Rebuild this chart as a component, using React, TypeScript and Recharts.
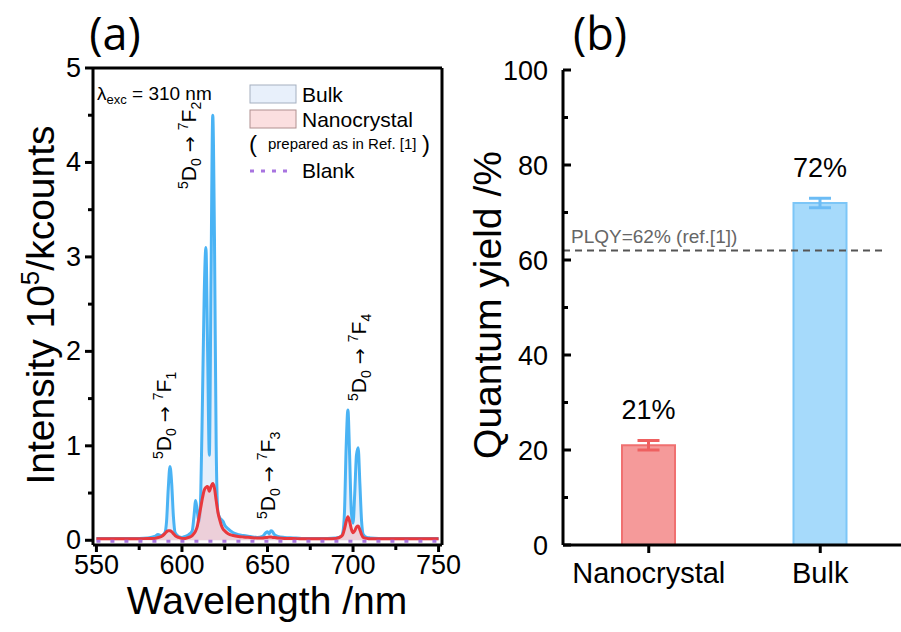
import React from 'react';
import {
  ComposedChart, Area, Line, XAxis, YAxis, ReferenceLine, Customized,
  BarChart, Bar, ErrorBar, LabelList,
} from 'recharts';

const FONT = "'Liberation Sans', Arial, Helvetica, sans-serif";
const TITLE_FONT = "'Open Sans', 'Liberation Sans', sans-serif";
const ARROW_FONT = "'DejaVu Sans', sans-serif";

// ---------- Panel (a) data ----------
const wavelength = [
  550, 555, 560, 565, 570, 575, 580,
  584, 586, 588, 590,
  591, 592, 593, 594, 595, 596,
  598, 600, 602, 604, 606,
  607, 608, 609, 610, 611, 612, 613, 614, 615, 616, 617, 618, 619, 620, 621, 622, 623, 624, 625,
  627, 630, 633, 636, 640, 644, 647, 649,
  650, 651, 652, 653, 654,
  656, 660, 665, 670, 675, 680, 685, 690,
  693, 694, 695, 696, 697, 698, 699, 700, 701, 702, 703, 704, 705, 706,
  708, 710, 715, 720, 725, 730, 735, 740, 745, 750,
];
const bulkIntensity = [
  0.02, 0.02, 0.02, 0.02, 0.02, 0.02, 0.025,
  0.04, 0.06, 0.05, 0.08,
  0.2, 0.55, 0.78, 0.6, 0.25, 0.08,
  0.04, 0.03, 0.04, 0.06, 0.1,
  0.25, 0.42, 0.3, 0.2, 0.5, 1.5, 2.6, 3.1, 2.0, 0.9, 2.8, 4.5, 3.2, 1.0, 0.3, 0.24, 0.22, 0.2, 0.16,
  0.12, 0.08, 0.06, 0.05, 0.04, 0.03, 0.04, 0.08,
  0.09, 0.07, 0.1, 0.09, 0.06,
  0.04, 0.03, 0.025, 0.02, 0.02, 0.02, 0.02, 0.025,
  0.04, 0.08, 0.3, 1.0, 1.38, 0.9, 0.3, 0.18, 0.5, 0.9, 0.98, 0.6, 0.2, 0.06,
  0.03, 0.025, 0.02, 0.02, 0.02, 0.02, 0.02, 0.02, 0.02, 0.02,
];
const nanoIntensity = [
  0.015, 0.015, 0.015, 0.015, 0.015, 0.015, 0.02,
  0.02, 0.03, 0.04, 0.07,
  0.09, 0.1, 0.1, 0.09, 0.07, 0.05,
  0.03, 0.02, 0.02, 0.03, 0.05,
  0.07, 0.1, 0.15, 0.25, 0.35, 0.45, 0.53, 0.56, 0.57, 0.52, 0.57, 0.6, 0.55, 0.42, 0.3, 0.22, 0.16, 0.12, 0.1,
  0.07, 0.05, 0.04, 0.035, 0.03, 0.025, 0.025, 0.03,
  0.03, 0.035, 0.035, 0.03, 0.03,
  0.025, 0.02, 0.02, 0.015, 0.015, 0.015, 0.015, 0.02,
  0.04, 0.06, 0.12, 0.2, 0.25, 0.2, 0.12, 0.08, 0.1, 0.14, 0.15, 0.11, 0.06, 0.03,
  0.02, 0.015, 0.015, 0.015, 0.015, 0.015, 0.015, 0.015, 0.015, 0.015,
];
const blankWavelength = [550, 600, 650, 700, 750];
const blankIntensity = [-0.01, -0.01, -0.01, -0.01, -0.01];

const xTicksA = [550, 575, 600, 625, 650, 675, 700, 725, 750];
const yTicksA = [0, 0.5, 1, 1.5, 2, 2.5, 3, 3.5, 4, 4.5, 5];

// ---------- Panel (b) data ----------
const categories = ['Nanocrystal', 'Bulk'];
const quantumYield = [21, 72];
const yieldError = [1, 1];
const yTicksB = [0, 10, 20, 30, 40, 50, 60, 70, 80, 90, 100];
const referencePLQY = 62;

const specData = wavelength.map((w, i) => ({ wl: w, bulk: bulkIntensity[i], nano: nanoIntensity[i] }));
const blankData = blankWavelength.map((w, i) => ({ wl: w, blank: blankIntensity[i] }));
const barData = categories.map((c, i) => ({
  cat: c,
  nano: c === 'Nanocrystal' ? quantumYield[i] : null,
  nanoErr: c === 'Nanocrystal' ? yieldError[i] : null,
  bulk: c === 'Bulk' ? quantumYield[i] : null,
  bulkErr: c === 'Bulk' ? yieldError[i] : null,
}));

const BLUE = '#4ab3f4';
const RED = '#e8383d';
const PURPLE = '#a874e0';

// ---------- ticks ----------
const XTickA = (props: any) => {
  const { x, y, payload } = props;
  const major = payload.value % 50 === 0;
  return (
    <g>
      <line x1={x} x2={x} y1={y} y2={y + (major ? 7 : 5)} stroke="#000" strokeWidth={3} />
      {major && (
        <text x={x} y={y + 29} textAnchor="middle" fontSize={27} fontFamily={FONT} fill="#000">
          {payload.value}
        </text>
      )}
    </g>
  );
};

const YTickA = (props: any) => {
  const { x, y, payload } = props;
  const major = Number.isInteger(payload.value);
  return (
    <g>
      <line x1={x} x2={x - (major ? 8 : 5)} y1={y} y2={y} stroke="#000" strokeWidth={3} />
      {major && (
        <text x={x - 12} y={y + 9} textAnchor="end" fontSize={27} fontFamily={FONT} fill="#000">
          {payload.value}
        </text>
      )}
    </g>
  );
};

const XTickB = (props: any) => {
  const { x, y, payload } = props;
  return (
    <g>
      <line x1={x} x2={x} y1={y} y2={y + 8} stroke="#000" strokeWidth={3} />
      <text x={x} y={y + 38} textAnchor="middle" fontSize={29} fontFamily={FONT} fill="#000">
        {payload.value}
      </text>
    </g>
  );
};

const YTickB = (props: any) => {
  const { x, y, payload } = props;
  const major = payload.value % 20 === 0;
  return (
    <g>
      <line x1={x} x2={x + (major ? 8 : 5)} y1={y} y2={y} stroke="#000" strokeWidth={3} />
      {major && (
        <text x={x - 15} y={y + 10} textAnchor="end" fontSize={27} fontFamily={FONT} fill="#000">
          {payload.value}
        </text>
      )}
    </g>
  );
};

// ---------- annotations ----------
const Transition = ({ x, y, n }: { x: number; y: number; n: string }) => (
  <text transform={`rotate(-90 ${x} ${y})`} x={x} y={y} fontSize={21} fontFamily={FONT} fill="#000">
    <tspan fontSize={14} dy={-8}>5</tspan>
    <tspan dy={8}>D</tspan>
    <tspan fontSize={14} dy={5}>0</tspan>
    <tspan dy={-5} fontFamily={ARROW_FONT} fontSize={19}>{' \u2192 '}</tspan>
    <tspan fontSize={14} dy={-8}>7</tspan>
    <tspan dy={8}>F</tspan>
    <tspan fontSize={14} dy={5}>{n}</tspan>
  </text>
);

const OverlayA = () => (
  <g>
    <text x={115} y={50} textAnchor="middle" fontSize={45} fontFamily={TITLE_FONT} fill="#000">(a)</text>
    <text x={267} y={614} textAnchor="middle" fontSize={39} fontFamily={FONT} fill="#000">Wavelength /nm</text>
    <text transform="rotate(-90 54 305)" x={54} y={305} textAnchor="middle" fontSize={39} fontFamily={FONT} fill="#000">
      Intensity 10<tspan fontSize={26} dy={-15}>5</tspan><tspan dy={15}>/kcounts</tspan>
    </text>
    <text x={97} y={100} fontSize={19} fontFamily={FONT} fill="#000">
      λ<tspan fontSize={13} dy={4}>exc</tspan><tspan dy={-4}> = 310 nm</tspan>
    </text>
    {/* legend */}
    <rect x={250} y={85} width={46} height={18} fill="#e8f0fb" stroke="#a5b0c0" strokeWidth={1} />
    <text x={302} y={102} fontSize={21} fontFamily={FONT} fill="#000">Bulk</text>
    <rect x={250} y={110} width={46} height={18} fill="#fbdfe0" stroke="#b09090" strokeWidth={1} />
    <text x={302} y={127} fontSize={21} fontFamily={FONT} fill="#000">Nanocrystal</text>
    <text x={249} y={152} fontSize={24} fontFamily={FONT} fill="#000">(</text>
    <text x={268} y={149} fontSize={15} fontFamily={FONT} fill="#000">prepared as in Ref. [1]</text>
    <text x={422} y={152} fontSize={24} fontFamily={FONT} fill="#000">)</text>
    <line x1={250} x2={294} y1={171} y2={171} stroke={PURPLE} strokeWidth={3} strokeDasharray="4 7" />
    <text x={302} y={178} fontSize={21} fontFamily={FONT} fill="#000">Blank</text>
    <Transition x={171} y={459} n="1" />
    <Transition x={196} y={189} n="2" />
    <Transition x={275} y={519} n="3" />
    <Transition x={366} y={401} n="4" />
  </g>
);

const OverlayB = () => (
  <g>
    <text x={138} y={50} textAnchor="middle" fontSize={45} fontFamily={TITLE_FONT} fill="#000">(b)</text>
    <text transform="rotate(-90 39 305)" x={39} y={305} textAnchor="middle" fontSize={39} fontFamily={FONT} fill="#000">
      Quantum yield /%
    </text>
  </g>
);

const PanelA = () => (
  <ComposedChart width={470} height={632} data={specData} margin={{ top: 68, right: 28, bottom: 27, left: 33 }}>
    <XAxis
      dataKey="wl" type="number" domain={[548, 752]} ticks={xTicksA} interval={0}
      tick={<XTickA />} tickLine={false} tickSize={0} tickMargin={0} height={60}
      axisLine={{ stroke: '#000', strokeWidth: 3 }} allowDataOverflow
    />
    <YAxis
      type="number" domain={[-0.05, 5]} ticks={yTicksA} interval={0}
      tick={<YTickA />} tickLine={false} tickSize={0} tickMargin={0} width={60}
      axisLine={{ stroke: '#000', strokeWidth: 3 }} allowDataOverflow
    />
    <Area
      dataKey="bulk" type="monotone" stroke={BLUE} strokeWidth={3} fill="#d3e5f8" fillOpacity={0.6}
      baseValue={0} isAnimationActive={false} dot={false} activeDot={false}
    />
    <Area
      dataKey="nano" type="monotone" stroke={RED} strokeWidth={3} fill="#f2b5bd" fillOpacity={0.55}
      baseValue={0} isAnimationActive={false} dot={false} activeDot={false}
    />
    <Line
      data={blankData} dataKey="blank" type="linear" stroke={PURPLE} strokeWidth={3} strokeDasharray="4 10"
      isAnimationActive={false} dot={false} activeDot={false}
    />
    <ReferenceLine y={5} stroke="#000" strokeWidth={3} />
    <ReferenceLine x={752} stroke="#000" strokeWidth={3} />
    <Customized component={OverlayA} />
  </ComposedChart>
);

const PanelB = () => (
  <BarChart
    width={445} height={632} data={barData} barGap={-53}
    margin={{ top: 70, right: 1, bottom: 27, left: 31 }}
  >
    <XAxis
      dataKey="cat" type="category" interval={0} tick={<XTickB />} tickLine={false}
      tickSize={0} tickMargin={0} height={60} axisLine={{ stroke: '#000', strokeWidth: 3 }}
    />
    <YAxis
      type="number" domain={[0, 100]} ticks={yTicksB} interval={0} tick={<YTickB />}
      tickLine={false} tickSize={0} tickMargin={0} width={70}
      axisLine={{ stroke: '#000', strokeWidth: 3 }}
    />
    <ReferenceLine
      y={referencePLQY}
      stroke="#555"
      strokeWidth={2}
      strokeDasharray="7 5"
      shape={(p: any) => (
        <line x1={p.x1} y1={p.y1} x2={p.x2 - 24} y2={p.y2} stroke="#555" strokeWidth={2} strokeDasharray="7 5" />
      )}
      label={{
        value: 'PLQY=62% (ref.[1])', position: 'insideBottomLeft', offset: 8,
        fontSize: 19, fontFamily: FONT, fill: '#666',
      }}
    />
    <Bar dataKey="nano" barSize={53} fill="#f59a9a" stroke="#f07070" strokeWidth={2} isAnimationActive={false}>
      <ErrorBar dataKey="nanoErr" direction="y" width={11} stroke="#ee6060" strokeWidth={3} />
      <LabelList
        dataKey="nano" position="top" offset={26}
        formatter={(v: any) => (v == null ? '' : `${v}%`)}
        fontSize={27} fontFamily={FONT} fill="#000"
      />
    </Bar>
    <Bar dataKey="bulk" barSize={53} fill="#a6dafb" stroke="#7cc6f7" strokeWidth={2} isAnimationActive={false}>
      <ErrorBar dataKey="bulkErr" direction="y" width={11} stroke="#6cbcf5" strokeWidth={3} />
      <LabelList
        dataKey="bulk" position="top" offset={26}
        formatter={(v: any) => (v == null ? '' : `${v}%`)}
        fontSize={27} fontFamily={FONT} fill="#000"
      />
    </Bar>
    <Customized component={OverlayB} />
  </BarChart>
);

export default function App() {
  return (
    <div style={{ position: 'absolute', left: 0, top: 0, width: 901, height: 632, overflow: 'hidden', background: '#fff' }}>
      <div style={{ position: 'absolute', left: 0, top: 0 }}>
        <PanelA />
      </div>
      <div style={{ position: 'absolute', left: 462, top: 0 }}>
        <PanelB />
      </div>
    </div>
  );
}
